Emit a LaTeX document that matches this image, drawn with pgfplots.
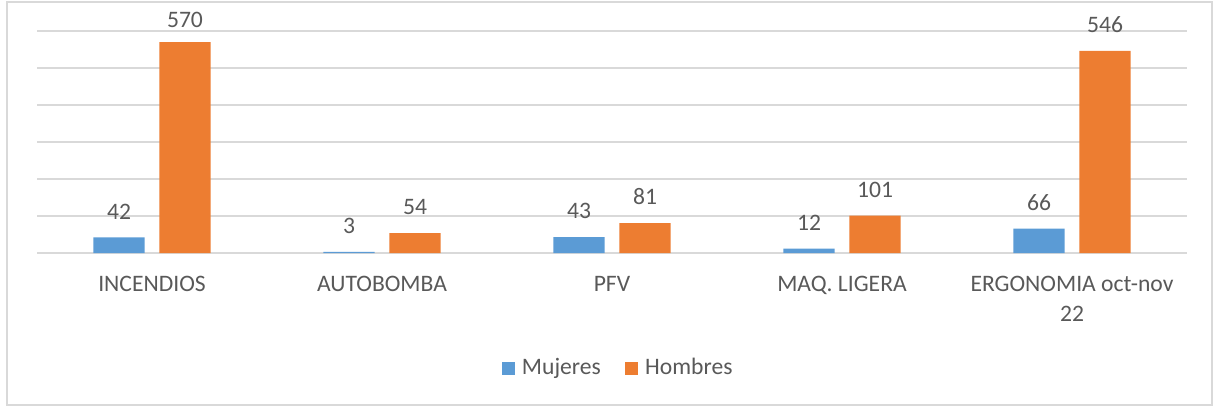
\documentclass[border=0pt]{standalone}
\usepackage{pgfplots}
\pgfplotsset{compat=1.18}
\usepackage{fontspec}
\setmainfont{Carlito}
\definecolor{cblue}{HTML}{5B9BD5}
\definecolor{corange}{HTML}{ED7D31}
\definecolor{ctext}{HTML}{595959}
\definecolor{cgrid}{HTML}{D9D9D9}
\newcommand{\cfont}{\fontsize{11.8pt}{15pt}\selectfont}
\pgfplotsset{
  mybar/.style={ybar, bar width=0.222, draw=none, fill=#1,
    legend image code/.code={\fill[#1] (0pt,-3.25pt) rectangle (6.5pt,3.25pt); \path (8.2pt,0pt);}},
}
\begin{document}
\begin{tikzpicture}
\useasboundingbox (-18.5pt,-77pt) rectangle (588pt,126.5pt);
\draw[cgrid, line width=0.6pt] (-15pt,-76pt) rectangle (587.5pt,125.5pt);
\begin{axis}[
  at={(0pt,0pt)}, anchor=south west,
  scale only axis, width=575pt, height=111pt,
  xmin=-0.5, xmax=4.5, ymin=0, ymax=600,
  axis line style={draw=none},
  ytick={0,100,...,600}, yticklabels={},
  ymajorgrids, grid style={cgrid, line width=0.6pt},
  major tick length=0pt,
  xtick={0,...,4},
  xticklabels={INCENDIOS, AUTOBOMBA, PFV, MAQ. LIGERA, {ERGONOMIA oct-nov\\22}},
  xticklabel style={align=center, font=\cfont, text=ctext, yshift=-8pt},
  nodes near coords,
  every node near coord/.append style={font=\cfont, text=ctext, inner sep=0pt, yshift=9pt},
  /pgf/number format/assume math mode=true,
  legend style={at={(0.5,-0.518)}, anchor=center, draw=none, legend columns=2,
    font=\cfont, text=ctext, xshift=3.5pt,
    /tikz/every even column/.append style={column sep=10pt}},
]
\addplot[mybar=cblue, bar shift=-0.1435,
  every node near coord/.append style={xshift=-16.5pt}]
  coordinates {(0,42) (1,3) (2,43) (3,12) (4,66)};
\addplot[mybar=corange, bar shift=0.1435,
  every node near coord/.append style={xshift=16.5pt},
  coordinate style/.condition={y>560}{yshift=-2pt}]
  coordinates {(0,570) (1,54) (2,81) (3,101) (4,546)};
\legend{Mujeres, Hombres}
\end{axis}
\end{tikzpicture}
\end{document}
